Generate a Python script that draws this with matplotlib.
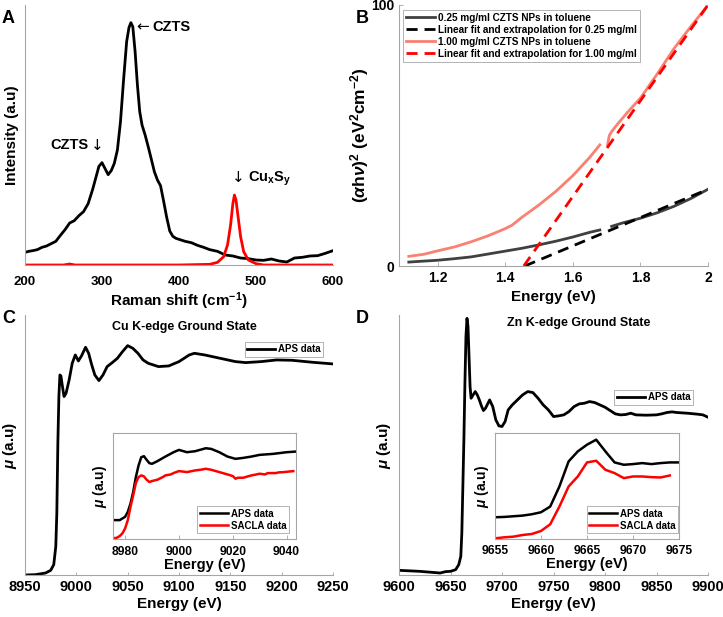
import numpy as np
import matplotlib
matplotlib.use("Agg")
import matplotlib.pyplot as plt

plt.rcParams['font.family'] = ['Liberation Sans', 'DejaVu Sans']
plt.rcParams['font.weight'] = 'bold'
plt.rcParams['axes.labelweight'] = 'bold'
plt.rcParams['mathtext.fontset'] = 'custom'
plt.rcParams['mathtext.rm'] = 'Liberation Sans:bold'
plt.rcParams['mathtext.it'] = 'Liberation Sans:italic:bold'
plt.rcParams['mathtext.bf'] = 'Liberation Sans:bold'

# ---- A: Raman ----
raman_x = [200, 205, 210, 216, 222, 228, 234, 240, 246, 252, 258, 264, 270, 276, 282, 288,
           292, 296, 300, 304, 308, 312, 316, 320, 324, 328, 332, 335, 337.5, 340, 343, 346,
           349, 352, 356, 360, 364, 368, 372, 376, 380, 384, 388, 392, 396, 400, 408, 416,
           424, 432, 440, 450, 460, 470, 480, 490, 500, 510, 520, 530, 540, 550, 560, 570,
           580, 590, 600]
raman_czts = [38, 41, 43, 46, 53, 57, 64, 71, 89, 106, 126, 133, 148, 160, 184, 228,
              262, 296, 307, 289, 271, 283, 305, 345, 430, 555, 670, 712, 727, 715, 640, 540,
              460, 420, 390, 355, 318, 280, 255, 238, 192, 143, 102, 86, 80, 77, 71, 67,
              59, 53, 46, 41, 30, 27, 21, 19, 15, 14, 18, 12, 9, 21, 23, 27,
              28, 35, 43]
raman_x_cuxsy = [200, 250, 258, 265, 300, 400, 440, 450, 458, 463, 467, 470, 472, 474, 477,
                 480, 484, 490, 500, 510, 600]
raman_cuxsy = [0, 0, 3, 0, 0, 0, 2, 8, 25, 60, 120, 185, 210, 195, 140, 85, 40, 15, 4, 0, 0]

# ---- B: Tauc plot ----
e_025 = [1.115, 1.15, 1.2, 1.25, 1.3, 1.35, 1.4, 1.45, 1.5, 1.55, 1.6, 1.65, 1.68, np.nan,
         1.715, 1.75, 1.8, 1.85, 1.9, 1.95, 2.0]
t_025 = [1.5, 1.8, 2.2, 2.8, 3.5, 4.6, 5.7, 6.8, 8.1, 9.5, 11.1, 12.9, 13.8, np.nan,
         15.2, 16.6, 18.3, 20.4, 22.9, 25.9, 29.4]
e_100 = [1.115, 1.16, 1.2, 1.25, 1.3, 1.35, 1.4, 1.42, 1.45, 1.5, 1.55, 1.6, 1.65, 1.68,
         np.nan, 1.703, 1.708, 1.715, 1.73, 1.76, 1.8, 1.85, 1.9, 1.95, 2.0]
t_100 = [3.7, 4.5, 5.8, 7.3, 9.3, 11.6, 14.3, 15.6, 18.7, 23.4, 28.6, 34.6, 41.6, 46.4,
         np.nan, 46.5, 50.0, 51.5, 54.0, 58.6, 64.3, 73.6, 83.4, 91.9, 100]
fit_025_x = [1.458, 2.0]
fit_025_y = [0, 29.4]
fit_100_x = [1.455, 2.0]
fit_100_y = [0, 100]

# ---- C: Cu K-edge ----
cu_e = [8950, 8960, 8970, 8975, 8978, 8980, 8981, 8982, 8983, 8984, 8985, 8986, 8987, 8988,
        8990, 8993, 8996, 8999, 9002, 9005, 9009, 9012, 9015, 9018, 9022, 9026, 9030, 9035,
        9040, 9045, 9050, 9055, 9060, 9065, 9070, 9080, 9090, 9100, 9110, 9115, 9125, 9140,
        9155, 9165, 9180, 9195, 9210, 9230, 9250]
cu_mu = [0, 1, 6, 14, 31, 86, 186, 396, 536, 601, 598, 576, 556, 536,
         546, 586, 636, 661, 643, 658, 684, 666, 631, 601, 584, 601, 626, 638,
         651, 671, 689, 681, 666, 646, 636, 626, 628, 641, 661, 666, 661, 651,
         641, 638, 641, 646, 645, 639, 634]
cu_in_e = [8975.7, 8978, 8980, 8981, 8982, 8983, 8984, 8985, 8986, 8987, 8988, 8989, 8990,
           8992, 8995, 8998, 9000, 9003, 9006, 9010, 9012, 9015, 9018, 9021, 9024, 9027,
           9030, 9035, 9040, 9043.5]
cu_in_aps = [57, 57, 67, 82, 107, 142, 187, 222, 247, 250, 239, 229, 227,
             235, 249, 262, 269, 262, 265, 274, 272, 262, 249, 242, 245, 249,
             254, 257, 262, 264]
cu_in_e_sacla = [8975.7, 8977, 8978, 8979, 8980, 8981, 8982, 8983, 8984, 8985, 8986, 8987,
                 8988, 8989, 8990, 8992, 8994, 8995, 8997, 8998, 9000, 9002, 9003, 9006,
                 9008, 9010, 9012, 9015, 9018, 9020, 9021, 9022, 9024, 9026, 9027, 9030,
                 9032, 9033, 9036, 9037, 9039, 9042.5]
cu_in_sacla = [2, 4, 9, 17, 32, 57, 97, 132, 169, 187, 192, 189,
               179, 172, 175, 179, 187, 192, 195, 199, 205, 203, 202, 207,
               209, 212, 209, 202, 195, 190, 182, 185, 185, 190, 192, 197,
               195, 199, 199, 201, 202, 205]

# ---- D: Zn K-edge ----
zn_e = [9600, 9620, 9640, 9645, 9650, 9655, 9658, 9660, 9661, 9662, 9663, 9664, 9665, 9666,
        9667, 9668, 9669, 9670, 9672, 9674, 9676, 9678, 9680, 9682, 9684, 9688, 9691, 9694,
        9697, 9700, 9703, 9706, 9710, 9715, 9720, 9725, 9730, 9735, 9740, 9745, 9750, 9755,
        9760, 9765, 9770, 9775, 9780, 9785, 9790, 9795, 9800, 9805, 9810, 9815, 9820, 9825,
        9830, 9840, 9850, 9855, 9860, 9865, 9870, 9880, 9890, 9895, 9900]
zn_mu = [14, 11, 6, 10, 11, 16, 31, 56, 126, 266, 406, 576, 716, 771,
         746, 656, 566, 531, 541, 551, 541, 526, 508, 494, 501, 526, 506, 466,
         448, 446, 461, 496, 511, 526, 541, 551, 548, 531, 511, 496, 476, 478,
         481, 491, 506, 514, 516, 521, 518, 511, 504, 494, 484, 481, 482, 486,
         481, 480, 481, 484, 488, 490, 488, 486, 483, 481, 474]
zn_in_e = [9655, 9656, 9657, 9658, 9659, 9660, 9661, 9662, 9663, 9664, 9665, 9666, 9667,
           9668, 9669, 9670, 9671, 9672, 9673, 9674, 9675]
zn_in_aps = [65, 66, 68, 70, 74, 80, 97, 157, 232, 262, 282, 297, 262,
             229, 222, 224, 227, 224, 227, 229, 229]
zn_in_e_sacla = [9655, 9656, 9657, 9658, 9659, 9660, 9661, 9662, 9663, 9664, 9665, 9666,
                 9667, 9668, 9669, 9670, 9671, 9672, 9673, 9674]
zn_in_sacla = [2, 5, 7, 12, 15, 24, 44, 97, 157, 187, 229, 234,
               207, 197, 182, 187, 187, 185, 184, 190]

W, H = 723, 617
fig = plt.figure(figsize=(W / 100, H / 100), dpi=100)


def px_axes(l, t, r, b):
    return fig.add_axes([l / W, 1 - b / H, (r - l) / W, (b - t) / H])


GRAY = '#a6a6a6'


def style(ax, box=False):
    for s in ['top', 'right']:
        ax.spines[s].set_visible(box)
    for s in ax.spines.values():
        s.set_color(GRAY)
        s.set_linewidth(0.8)
    ax.tick_params(direction='in', length=3, color=GRAY, width=0.6)


def frame(lg):
    lg.get_frame().set_edgecolor(GRAY)
    lg.get_frame().set_linewidth(0.6)


# A
axA = px_axes(25, 5, 333, 265)
style(axA)
axA.plot(raman_x, raman_czts, color='black', lw=2)
axA.plot(raman_x_cuxsy, raman_cuxsy, color='red', lw=2)
axA.set_xlim(200, 600)
axA.set_ylim(0, 780)
axA.set_yticks([])
axA.set_xticks([200, 300, 400, 500, 600])
axA.tick_params(axis='x', length=0, labelsize=9.5, pad=8)
axA.set_xlabel(r'Raman shift (cm$^{-1}$)', fontsize=11, labelpad=2)
axA.set_ylabel('Intensity (a.u)', fontsize=11, labelpad=4)
axA.text(344, 714, '\u2190', fontsize=11, va='center', ha='left', weight='normal',
         family='DejaVu Sans')
axA.text(366, 714, 'CZTS', fontsize=10.5, va='center', ha='left')
axA.text(283, 360, 'CZTS', fontsize=10.5, va='center', ha='right')
axA.text(285, 358, '\u2193', fontsize=11, va='center', ha='left', weight='normal',
         family='DejaVu Sans')
axA.text(469, 262, '\u2193', fontsize=11, va='center', ha='left', weight='normal',
         family='DejaVu Sans')
axA.text(490, 258, r'Cu$_\mathregular{x}$S$_\mathregular{y}$', fontsize=10.5,
         va='center', ha='left')

# B
axB = px_axes(399, 5, 708, 266)
style(axB)
axB.plot(e_025, t_025, color='#404040', lw=2, label='0.25 mg/ml CZTS NPs in toluene')
axB.plot(fit_025_x, fit_025_y, color='black', lw=2, ls=(0, (4, 2.5)),
         label='Linear fit and extrapolation for 0.25 mg/ml')
axB.plot(e_100, t_100, color='#fa8072', lw=2, label='1.00 mg/ml CZTS NPs in toluene')
axB.plot(fit_100_x, fit_100_y, color='red', lw=2, ls=(0, (4, 2.5)),
         label='Linear fit and extrapolation for 1.00 mg/ml')
axB.set_xlim(1.086, 2.0)
axB.set_ylim(0, 100)
axB.set_xticks([1.2, 1.4, 1.6, 1.8, 2.0])
axB.set_xticklabels(['1.2', '1.4', '1.6', '1.8', '2'])
axB.set_yticks([0, 100])
axB.tick_params(labelsize=10)
axB.set_xlabel('Energy (eV)', fontsize=11, labelpad=4)
axB.set_ylabel(r'($\alpha$h$\nu$)$^2$ (eV$^2$cm$^{-2}$)', fontsize=12.5, labelpad=0)
lg = axB.legend(loc='upper left', bbox_to_anchor=(0.013, 0.981), fontsize=7.2,
                handlelength=2.9, borderpad=0.3, labelspacing=0.2, handletextpad=0.3,
                fancybox=False, framealpha=1, borderaxespad=0)
frame(lg)

# C
axC = px_axes(25, 315, 333, 575)
style(axC)
axC.plot(cu_e, cu_mu, color='black', lw=2, label='APS data')
axC.set_xlim(8950, 9250)
axC.set_ylim(0, 781)
axC.set_yticks([])
axC.set_xticks(range(8950, 9251, 50))
axC.tick_params(axis='x', labelsize=10.5, length=2)
axC.set_xlabel('Energy (eV)', fontsize=11, labelpad=2)
axC.set_ylabel(r'$\mu$ (a.u)', fontsize=11, labelpad=4)
axC.text(0.516, 0.954, 'Cu K-edge Ground State', transform=axC.transAxes,
         ha='center', va='center', fontsize=9)
lg = axC.legend(loc='upper right', bbox_to_anchor=(0.968, 0.896), fontsize=7,
                handlelength=2.9, borderpad=0.25, handletextpad=0.3, fancybox=False,
                framealpha=1, borderaxespad=0)
frame(lg)

insC = px_axes(113, 433, 296, 539)
style(insC, box=True)
insC.plot(cu_in_e, cu_in_aps, color='black', lw=1.8, label='APS data')
insC.plot(cu_in_e_sacla, cu_in_sacla, color='red', lw=1.8, label='SACLA data')
insC.set_xlim(8975.5, 9043.5)
insC.set_ylim(0, 320)
insC.set_yticks([])
insC.set_xticks([8980, 9000, 9020, 9040])
insC.tick_params(axis='x', labelsize=8.7, pad=5)
insC.set_xlabel('Energy (eV)', fontsize=10.5, labelpad=0)
insC.set_ylabel(r'$\mu$ (a.u)', fontsize=10, labelpad=3)
lg = insC.legend(loc='lower right', bbox_to_anchor=(0.962, 0.057), fontsize=7,
                 handlelength=2.9, borderpad=0.25, labelspacing=0.2, handletextpad=0.3,
                 fancybox=False, framealpha=1, borderaxespad=0)
frame(lg)

# D
axD = px_axes(399, 315, 708, 575)
style(axD)
axD.plot(zn_e, zn_mu, color='black', lw=2, label='APS data')
axD.set_xlim(9600, 9900)
axD.set_ylim(0, 781)
axD.set_yticks([])
axD.set_xticks(range(9600, 9901, 50))
axD.tick_params(axis='x', labelsize=10.5, length=2)
axD.set_xlabel('Energy (eV)', fontsize=11, labelpad=2)
axD.set_ylabel(r'$\mu$ (a.u)', fontsize=11, labelpad=4)
axD.text(0.583, 0.97, 'Zn K-edge Ground State', transform=axD.transAxes,
         ha='center', va='center', fontsize=9)
lg = axD.legend(loc='upper right', bbox_to_anchor=(0.951, 0.7115), fontsize=7,
                handlelength=2.9, borderpad=0.25, handletextpad=0.3, fancybox=False,
                framealpha=1, borderaxespad=0)
frame(lg)

insD = px_axes(495, 433, 679, 539)
style(insD, box=True)
insD.plot(zn_in_e, zn_in_aps, color='black', lw=1.8, label='APS data')
insD.plot(zn_in_e_sacla, zn_in_sacla, color='red', lw=1.8, label='SACLA data')
insD.set_xlim(9655, 9675)
insD.set_ylim(0, 317)
insD.set_yticks([])
insD.set_xticks([9655, 9660, 9665, 9670, 9675])
insD.tick_params(axis='x', labelsize=8.7, pad=4)
insD.set_xlabel('Energy (eV)', fontsize=10.5, labelpad=0)
insD.set_ylabel(r'$\mu$ (a.u)', fontsize=10, labelpad=3)
lg = insD.legend(loc='lower right', bbox_to_anchor=(0.996, 0.057), fontsize=7,
                 handlelength=2.9, borderpad=0.25, labelspacing=0.2, handletextpad=0.3,
                 fancybox=False, framealpha=1, borderaxespad=0)
frame(lg)

for lbl, x, y in [('A', 8.5, 18.5), ('B', 362, 18.5), ('C', 8.5, 318.5), ('D', 362, 318.5)]:
    fig.text(x / W, 1 - y / H, lbl, fontsize=13, weight='bold', ha='center', va='center')

fig.savefig('out.png', dpi=100)
